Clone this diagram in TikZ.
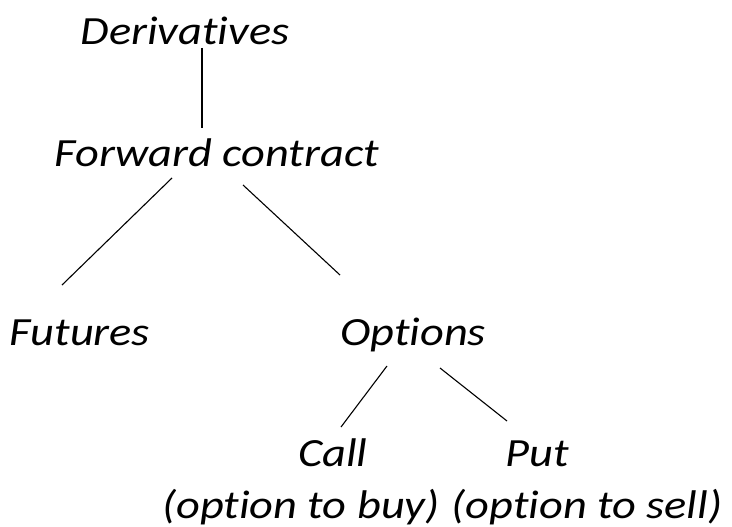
\documentclass[tikz,border=0pt]{standalone}
\usepackage{fontspec}
\setmainfont{Carlito}[FakeStretch=1.16,Ligatures={NoCommon}]
\begin{document}
\begin{tikzpicture}[x=1pt,y=-1pt,
  lbl/.style={anchor=base,inner sep=0pt,font=\fontsize{40}{44}\selectfont\itshape},
  conn/.style={line width=1.1pt,black}]
\useasboundingbox (0,0) rectangle (732,527);
\node[lbl] (der) at (185,45) {Derivatives};
\node[lbl] (fwd) at (217,166) {Forward contract};
\node[lbl] (fut) at (80,345) {Futures};
\node[lbl] (opt) at (413,345) {Options};
\node[lbl] (call) at (333,466) {Call};
\node[lbl] (put) at (537,466) {Put};
\node[lbl] (buy) at (301,518) {(option to buy)};
\node[lbl] (sell) at (587,518) {(option to sell)};
\coordinate (derB) at (202,48);
\coordinate (fwdT) at (202,128);
\coordinate (fwdL) at (172,178);
\coordinate (futT) at (62,285);
\coordinate (fwdR) at (243,185);
\coordinate (optT) at (340,275);
\coordinate (optL) at (387,366);
\coordinate (callT) at (341,427);
\coordinate (optR) at (440,368);
\coordinate (putT) at (507,421);
\draw[conn] (derB) -- (fwdT);
\draw[conn] (fwdL) -- (futT);
\draw[conn] (fwdR) -- (optT);
\draw[conn] (optL) -- (callT);
\draw[conn] (optR) -- (putT);
\end{tikzpicture}
\end{document}
